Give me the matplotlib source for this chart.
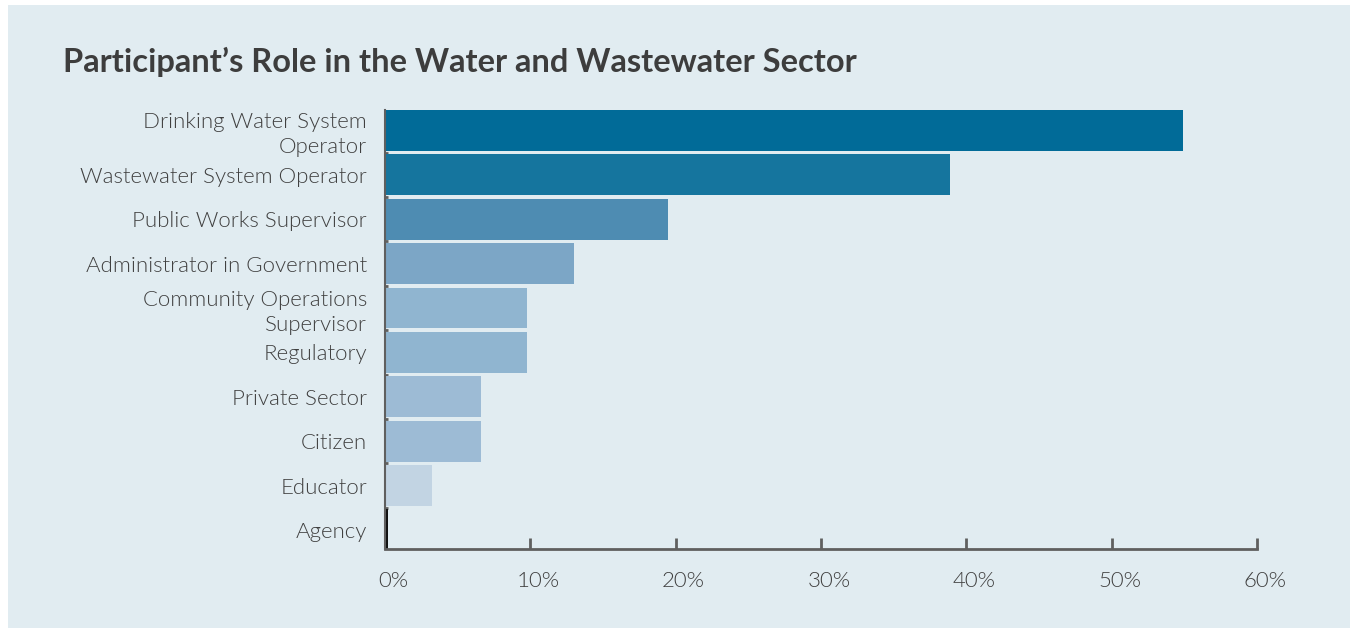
import matplotlib.pyplot as plt
import matplotlib.patches as patches
import matplotlib.ticker as ticker
import matplotlib.transforms as mtransforms

# Данные
roles = ['Drinking Water System\nOperator', 'Wastewater System Operator',
         'Public Works Supervisor', 'Administrator in Government',
         'Community Operations\nSupervisor', 'Regulatory', 'Private Sector',
         'Citizen', 'Educator', 'Agency']
shares = [54.9, 38.9, 19.5, 13.0, 9.8, 9.8, 6.6, 6.6, 3.2, 0.2]
bar_colors = ['#016b98', '#15759e', '#4e8cb2', '#7ca6c6', '#90b5d0',
              '#90b5d0', '#9dbbd5', '#9dbbd5', '#c2d4e3', '#111111']
x_ticks = [0, 10, 20, 30, 40, 50, 60]

bg = '#e1ecf1'
text_color = '#404040'
axis_color = '#5f5f5f'

plt.rcParams['font.family'] = ['Lato', 'DejaVu Sans']

fig = plt.figure(figsize=(13.53, 6.28), dpi=100)
fig.patch.set_facecolor('white')
# светлая подложка с белой рамкой
fig.patches.append(patches.Rectangle((8 / 1353, 0), 1342 / 1353, 623 / 628,
                                     transform=fig.transFigure,
                                     facecolor=bg, edgecolor='none', zorder=-5))

ax = fig.add_axes([385 / 1353, 1 - 549 / 628, 872 / 1353, 439 / 628])
ax.set_facecolor('none')

y = list(range(len(roles)))
ax.barh(y, shares, height=0.92, color=bar_colors, zorder=2)

ax.set_xlim(0, 60)
ax.set_ylim(9.43, -0.46)

ax.set_xticks(x_ticks)
ax.xaxis.set_major_formatter(ticker.FuncFormatter(lambda v, _: f'{v:.0f}%'))
ax.tick_params(axis='x', direction='in', length=8, width=2, color=axis_color,
               labelsize=16, labelcolor=text_color, pad=16)
shift = mtransforms.ScaledTranslation(8 / 100, 0, fig.dpi_scale_trans)
for lbl in ax.get_xticklabels():
    lbl.set_fontweight(300)
    lbl.set_transform(lbl.get_transform() + shift)

ax.set_yticks(y)
ax.set_yticklabels(roles, fontsize=16, color=text_color, fontweight=300,
                   linespacing=1.3)
ax.tick_params(axis='y', length=0, pad=13)
ax.set_yticks([i + 0.5 for i in range(len(roles) - 1)], minor=True)
ax.tick_params(axis='y', which='minor', direction='in', length=2, width=2,
               color=axis_color)

for side in ['top', 'right']:
    ax.spines[side].set_visible(False)
ax.spines['bottom'].set_color(axis_color)
ax.spines['bottom'].set_linewidth(2)
ax.spines['left'].set_color(axis_color)
ax.spines['left'].set_linewidth(1.5)

fig.text(63 / 1353, 1 - 62 / 628, 'Participant’s Role in the Water and Wastewater Sector',
         fontsize=23.5, fontweight='bold', color='#3d3d3d', va='center', ha='left')

fig.savefig('out.png', dpi=100, facecolor=fig.get_facecolor())
